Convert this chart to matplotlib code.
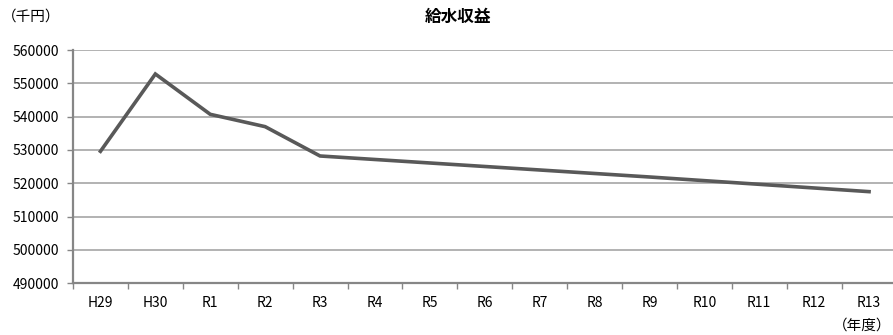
import matplotlib
matplotlib.use("Agg")
import matplotlib.pyplot as plt
import numpy as np

plt.rcParams['font.family'] = ['Noto Sans CJK JP', 'DejaVu Sans']

years = ["H29", "H30", "R1", "R2", "R3", "R4", "R5", "R6", "R7",
         "R8", "R9", "R10", "R11", "R12", "R13"]
revenue = [529600, 552800, 540700, 537000, 528200, 527150, 526100, 525050,
           524000, 522950, 521900, 520800, 519700, 518600, 517500]
y_ticks = [490000, 500000, 510000, 520000, 530000, 540000, 550000, 560000]

fig = plt.figure(figsize=(8.93, 3.35), dpi=100)
ax = fig.add_axes([73 / 893, 51.7 / 335, 823.5 / 893, 233.3 / 335])

x = np.arange(len(years))
ax.plot(x, revenue, color="#595959", linewidth=2.6, solid_joinstyle="miter", zorder=3)

ax.set_xlim(-0.5, len(years) - 0.5)
ax.set_ylim(490000, 560000)

ax.set_yticks(y_ticks)
ax.set_yticklabels([str(v) for v in y_ticks], fontsize=10, color="#000000")
ax.yaxis.grid(True, color="#a6a6a6", linewidth=1.2)
ax.set_axisbelow(True)

# category boundaries carry the tick marks, centres carry the labels
ax.set_xticks(np.arange(len(years) + 1) - 0.5)
ax.set_xticklabels([])
ax.set_xticks(x, minor=True)
ax.set_xticklabels(years, minor=True, fontsize=10)
ax.tick_params(axis="x", which="major", length=4, width=1, color="#868686", direction="out")
ax.tick_params(axis="x", which="minor", length=0, pad=9)
ax.tick_params(axis="y", length=4, width=1, color="#868686", pad=6)

for side in ("top", "right"):
    ax.spines[side].set_visible(False)
for side in ("left", "bottom"):
    ax.spines[side].set_color("#868686")
    ax.spines[side].set_linewidth(1.6)

fig.text(458 / 893, 1 - 17 / 335, "給水収益", ha="center", va="center",
         fontsize=12, fontweight="bold")
fig.text(2 / 893, 1 - 17 / 335, "（千円）", ha="left", va="center", fontsize=10.5)
fig.text(891 / 893, 1 - 326 / 335, "（年度）", ha="right", va="center", fontsize=10.5)

fig.savefig("out.png", dpi=100)
